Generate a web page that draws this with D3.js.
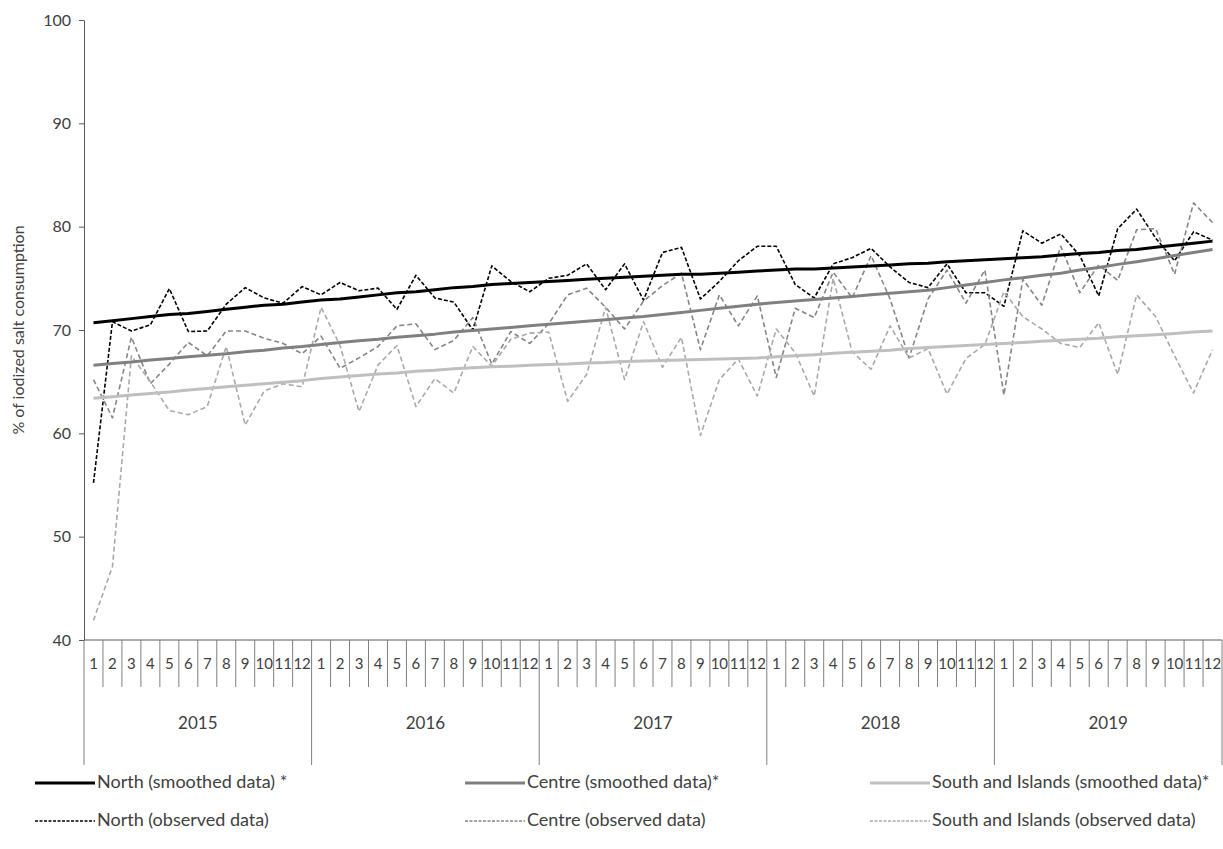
<!DOCTYPE html>
<html>
<head>
<meta charset="utf-8">
<script src="https://cdn.jsdelivr.net/npm/d3@7"></script>
<style>
    body { margin: 0; background: #ffffff; }
    text { font-family: Lato, "Open Sans", sans-serif; fill: #404040; }
</style>
</head>
<body>
<script>
// SVG size
var w = 1223;
var h = 849;

// category levels
var years = ["2015", "2016", "2017", "2018", "2019"];
var months = ["1", "2", "3", "4", "5", "6", "7", "8", "9", "10", "11", "12"];
var yTicks = [40, 50, 60, 70, 80, 90, 100];

// observed monthly values (%)
var northObserved = [
    55.2, 70.8, 69.9, 70.5, 74.0, 69.85, 69.9, 72.5, 74.1, 73.1, 72.6, 74.2,
    73.4, 74.6, 73.8, 74.05, 72.0, 75.3, 73.1, 72.7, 70.0, 76.2, 74.7, 73.7,
    75.0, 75.3, 76.4, 73.9, 76.4, 72.9, 77.5, 78.0, 73.0, 74.7, 76.7, 78.1,
    78.1, 74.4, 73.1, 76.4, 77.0, 77.9, 76.1, 74.6, 74.1, 76.4, 73.6, 73.6,
    72.3, 79.6, 78.4, 79.3, 77.2, 73.3, 79.8, 81.7, 78.9, 76.7, 79.5, 78.7
];
var centreObserved = [
    65.2, 61.5, 69.3, 64.8, 66.7, 68.8, 67.5, 69.9, 69.9, 69.2, 68.7, 67.7,
    69.4, 66.3, 67.3, 68.4, 70.4, 70.6, 68.1, 69.0, 71.2, 66.7, 69.85, 68.7,
    70.6, 73.4, 74.05, 72.2, 70.1, 72.8, 74.3, 75.5, 68.1, 73.4, 70.4, 73.3,
    65.4, 72.1, 71.2, 75.6, 73.1, 77.2, 73.0, 67.3, 73.0, 75.8, 72.6, 75.8,
    63.7, 74.9, 72.4, 78.1, 73.6, 76.3, 74.8, 79.7, 79.8, 75.4, 82.3, 80.4
];
var southObserved = [
    41.9, 47.1, 67.5, 65.0, 62.2, 61.8, 62.6, 68.4, 60.8, 64.1, 64.8, 64.5,
    72.2, 68.5, 62.1, 66.6, 68.5, 62.6, 65.3, 63.9, 68.4, 66.5, 69.1, 69.7,
    69.8, 63.1, 65.7, 72.2, 65.2, 70.8, 66.4, 69.3, 59.8, 65.2, 67.2, 63.6,
    70.1, 67.8, 63.6, 75.0, 67.9, 66.2, 70.4, 67.3, 68.2, 63.8, 67.25, 68.6,
    73.7, 71.3, 70.1, 68.7, 68.3, 70.7, 65.7, 73.4, 71.3, 67.5, 63.9, 68.1
];

// smoothed values (%)
var northSmoothed = [
    70.7, 70.9, 71.1, 71.3, 71.5, 71.6, 71.8, 72.0, 72.2, 72.4, 72.5, 72.7,
    72.9, 73.0, 73.2, 73.4, 73.6, 73.7, 73.9, 74.1, 74.2, 74.4, 74.5, 74.6,
    74.7, 74.8, 74.9, 75.0, 75.1, 75.2, 75.3, 75.4, 75.4, 75.5, 75.6, 75.7,
    75.8, 75.9, 75.9, 76.0, 76.1, 76.2, 76.3, 76.4, 76.45, 76.6, 76.7, 76.8,
    76.9, 77.0, 77.1, 77.25, 77.4, 77.5, 77.7, 77.8, 78.0, 78.2, 78.4, 78.6
];
var centreSmoothed = [
    66.6, 66.75, 66.9, 67.1, 67.25, 67.4, 67.55, 67.7, 67.9, 68.05, 68.25, 68.4,
    68.6, 68.8, 68.95, 69.1, 69.3, 69.45, 69.6, 69.8, 69.95, 70.1, 70.25, 70.4,
    70.55, 70.7, 70.85, 71.0, 71.15, 71.3, 71.5, 71.7, 71.9, 72.1, 72.3, 72.5,
    72.65, 72.8, 72.95, 73.1, 73.25, 73.4, 73.55, 73.7, 73.85, 74.1, 74.35, 74.6,
    74.85, 75.05, 75.3, 75.5, 75.8, 76.05, 76.35, 76.6, 76.9, 77.2, 77.5, 77.8
];
var southSmoothed = [
    63.4, 63.55, 63.7, 63.85, 64.0, 64.2, 64.35, 64.5, 64.65, 64.8, 64.95, 65.1,
    65.3, 65.45, 65.6, 65.75, 65.85, 66.0, 66.1, 66.25, 66.35, 66.45, 66.5, 66.6,
    66.65, 66.7, 66.8, 66.85, 66.95, 67.0, 67.05, 67.1, 67.15, 67.2, 67.25, 67.3,
    67.4, 67.5, 67.6, 67.75, 67.85, 67.95, 68.05, 68.2, 68.3, 68.4, 68.5, 68.6,
    68.7, 68.8, 68.9, 69.0, 69.1, 69.2, 69.35, 69.45, 69.55, 69.65, 69.8, 69.9
];

// legend texts
var legendLabels = [
    "North (smoothed data) *", "Centre (smoothed data)*", "South and Islands (smoothed data)*",
    "North (observed data)", "Centre (observed data)", "South and Islands (observed data)"
];

// month categories (year x month)
var categories = [];
years.forEach(function (yr) {
    months.forEach(function (m) {
        categories.push(yr + "-" + m);
    });
});

// series table built from the arrays above
var series = [
    { label: legendLabels[3], values: northObserved, color: "#000000", width: 1.6, dash: "4,2" },
    { label: legendLabels[4], values: centreObserved, color: "#858585", width: 1.6, dash: "5,3" },
    { label: legendLabels[5], values: southObserved, color: "#a9a9a9", width: 1.6, dash: "5,3" },
    { label: legendLabels[2], values: southSmoothed, color: "#bfbfbf", width: 3, dash: null },
    { label: legendLabels[1], values: centreSmoothed, color: "#808080", width: 3, dash: null },
    { label: legendLabels[0], values: northSmoothed, color: "#000000", width: 3, dash: null }
];

// plot area (plotTop: "top" is taken by window.top)
var left = 84;
var right = 1222;
var plotTop = 20;
var bottom = 640;

var x = d3.scaleBand()
    .domain(categories)
    .range([left, right]);

var y = d3.scaleLinear()
    .domain([40, 100])
    .range([bottom, plotTop]);

var svg = d3.select("body").append("svg")
    .attr("width", w)
    .attr("height", h);

// ———————— y axis ———————— //
var yAxis = svg.append("g")
    .attr("transform", "translate(" + left + ",0)")
    .call(d3.axisLeft(y).tickValues(yTicks).tickSize(5).tickPadding(8).tickSizeOuter(0));

yAxis.select(".domain").attr("stroke", "#595959");
yAxis.selectAll(".tick line").attr("stroke", "#595959");
yAxis.selectAll(".tick text")
    .attr("font-size", "16px")
    .style("font-family", "Lato, 'Open Sans', sans-serif")
    .attr("fill", "#404040");

svg.append("text")
    .attr("transform", "translate(20," + ((plotTop + bottom) / 2) + ") rotate(-90)")
    .attr("text-anchor", "middle")
    .attr("dominant-baseline", "middle")
    .attr("font-size", "16px")
    .text("% of iodized salt consumption");

// ———————— x axis (two-level categories) ———————— //
svg.append("line")
    .attr("x1", left).attr("x2", right)
    .attr("y1", bottom).attr("y2", bottom)
    .attr("stroke", "#595959");

var bw = x.bandwidth();

// dividers: short between months, long at year boundaries
svg.selectAll(".divider")
    .data(categories.concat(["end"]))
    .enter()
    .append("line")
    .attr("class", "divider")
    .attr("x1", function (d, i) { return i < categories.length ? x(d) : right; })
    .attr("x2", function (d, i) { return i < categories.length ? x(d) : right; })
    .attr("y1", bottom)
    .attr("y2", function (d, i) { return i % 12 === 0 ? bottom + 125 : bottom + 47; })
    .attr("stroke", "#7f7f7f")
    .attr("stroke-width", 1);

svg.selectAll(".month")
    .data(categories)
    .enter()
    .append("text")
    .attr("class", "month")
    .attr("x", function (d) { return x(d) + bw / 2; })
    .attr("y", bottom + 25)
    .attr("text-anchor", "middle")
    .attr("dominant-baseline", "middle")
    .attr("font-size", "15px")
    .text(function (d) { return d.split("-")[1]; });

svg.selectAll(".year")
    .data(years)
    .enter()
    .append("text")
    .attr("class", "year")
    .attr("x", function (d) { return (x(d + "-1") + x(d + "-12") + bw) / 2; })
    .attr("y", bottom + 85)
    .attr("text-anchor", "middle")
    .attr("dominant-baseline", "middle")
    .attr("font-size", "17px")
    .text(function (d) { return d; });

// ———————— lines ———————— //
var line = d3.line()
    .x(function (d, i) { return x(categories[i]) + bw / 2; })
    .y(function (d) { return y(d); });

svg.selectAll(".series")
    .data(series)
    .enter()
    .append("path")
    .attr("class", "series")
    .attr("d", function (d) { return line(d.values); })
    .attr("fill", "none")
    .attr("stroke", function (d) { return d.color; })
    .attr("stroke-width", function (d) { return d.width; })
    .attr("stroke-dasharray", function (d) { return d.dash; })
    .attr("stroke-linejoin", "round");

// ———————— legend ———————— //
var legendX = [35, 465, 870];
var legendY = [783, 821];
var legendItems = [series[5], series[4], series[3], series[0], series[1], series[2]];

var legend = svg.selectAll(".legend")
    .data(legendItems)
    .enter()
    .append("g")
    .attr("class", "legend")
    .attr("transform", function (d, i) {
        return "translate(" + legendX[i % 3] + "," + legendY[Math.floor(i / 3)] + ")";
    });

legend.append("line")
    .attr("x1", 0).attr("x2", 60)
    .attr("y1", 0).attr("y2", 0)
    .attr("stroke", function (d) { return d.color; })
    .attr("stroke-width", function (d) { return d.dash ? 1.5 : 3; })
    .attr("stroke-dasharray", function (d) { return d.dash ? "3,1.5" : null; });

legend.append("text")
    .attr("x", 62)
    .attr("y", 0)
    .attr("dominant-baseline", "middle")
    .attr("font-size", "18px")
    .text(function (d) { return d.label; });
</script>
</body>
</html>
